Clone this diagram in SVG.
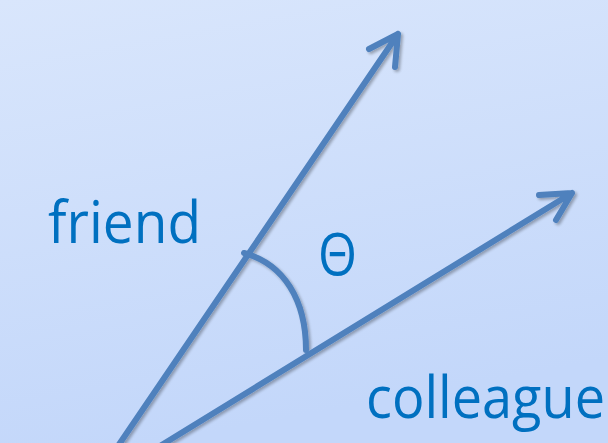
<svg xmlns="http://www.w3.org/2000/svg" width="608" height="443" viewBox="0 0 608 443">
<defs>
<linearGradient id="bg" x1="0" y1="0" x2="0.25" y2="1">
<stop offset="0" stop-color="#d9e6fc"/>
<stop offset="1" stop-color="#c3d7fa"/>
</linearGradient>
<filter id="sh" x="-20%" y="-20%" width="140%" height="140%">
<feGaussianBlur in="SourceAlpha" stdDeviation="1.5"/>
<feOffset dx="2" dy="2" result="b"/>
<feComponentTransfer><feFuncA type="linear" slope="0.3"/></feComponentTransfer>
<feMerge><feMergeNode/><feMergeNode in="SourceGraphic"/></feMerge>
</filter>
</defs>
<style>
.ln{fill:none;stroke:#4f81bd;stroke-width:6;stroke-linecap:round;stroke-linejoin:round}
.lb{fill:#0070c0;font-family:"Open Sans","Noto Sans",sans-serif;font-size:58px}
</style>
<rect width="608" height="443" fill="url(#bg)"/>
<g id="connectors" filter="url(#sh)">
<path class="ln" d="M118,446 L398,34 M369,49 L398,34 L395,67"/>
<path class="ln" d="M160,446 L572,193 M539,195 L572,193 L556,220"/>
<path class="ln" d="M244,253 C284,264 306,300 306,350"/>
</g>
<g id="friend"><text class="lb" x="48" y="243" textLength="153" lengthAdjust="spacingAndGlyphs">friend</text></g>
<g id="theta"><text class="lb" x="318" y="275" textLength="39" lengthAdjust="spacingAndGlyphs">Θ</text></g>
<g id="colleague"><text class="lb" x="366" y="418" textLength="239" lengthAdjust="spacingAndGlyphs">colleague</text></g>
</svg>
